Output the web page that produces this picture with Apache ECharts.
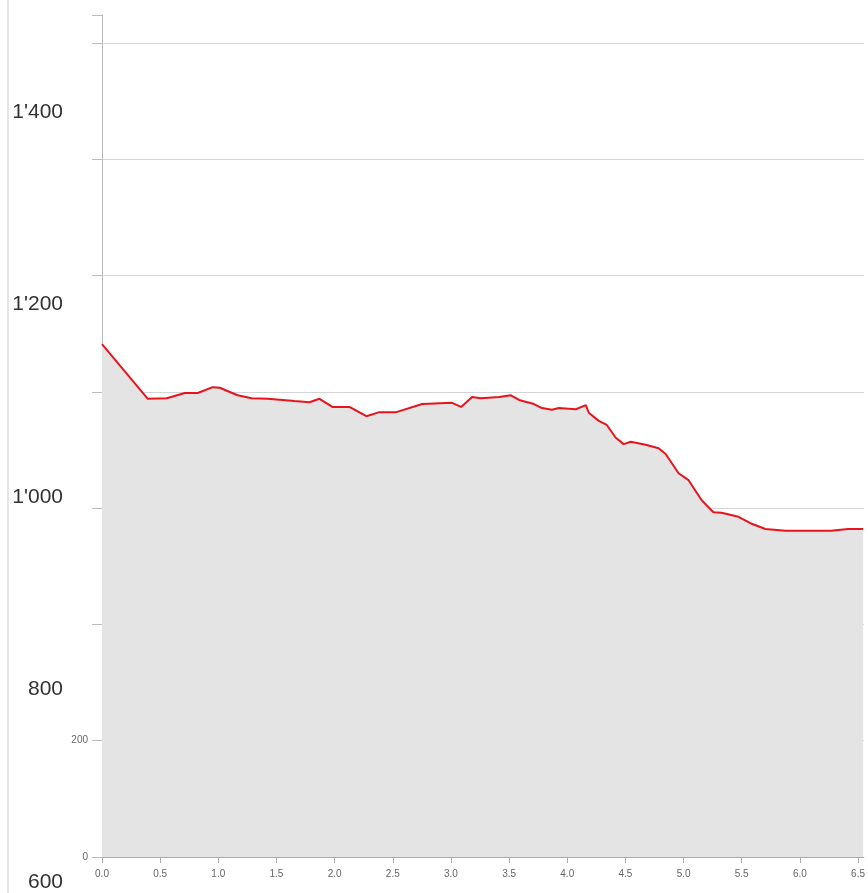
<!DOCTYPE html>
<html>
<head>
<meta charset="utf-8">
<script src="https://cdn.jsdelivr.net/npm/echarts@6/dist/echarts.min.js"></script>
<style>html,body{margin:0;padding:0;background:#fff}#c{width:868px;height:893px}</style>
</head>
<body>
<div id="c"></div>
<script>
const distanceKm = [0.00,0.394,0.557,0.712,0.823,0.952,1.012,1.166,1.286,1.424,1.655,1.784,1.870,1.981,2.127,2.273,2.384,2.530,2.753,3.010,3.087,3.182,3.259,3.413,3.516,3.585,3.714,3.782,3.868,3.928,4.074,4.160,4.185,4.271,4.340,4.417,4.485,4.545,4.674,4.786,4.846,4.957,5.043,5.154,5.257,5.326,5.472,5.575,5.703,5.875,6.072,6.269,6.415,6.544];
const profileValues = [882,788,789,798,798,808,807,794,789,788,784,782,788,774,774,758,765,765,779,781,774,791,789,791,794,786,779,772,769,772,770,777,764,750,743,721,710,714,709,703,693,660,648,614,593,592,585,574,564,561,561,561,564,564];
const smallTickLabels = [0, 200];
const bigTickLabels = [600, 800, 1000, 1200, 1400];

const chart = echarts.init(document.getElementById('c'), null, {renderer: 'canvas'});
const fmtBig = v => {
  const s = String(v);
  return s.length > 3 ? s.slice(0, s.length - 3) + "'" + s.slice(-3) : s;
};
chart.setOption({
  animation: false,
  grid: [
    {left: 102, right: 2, top: 15, bottom: 36},
    {left: 68, width: 20, top: 112, bottom: 11}
  ],
  graphic: [{
    type: 'line', shape: {x1: 8, y1: 0, x2: 8, y2: 893},
    style: {stroke: '#e6e6e6', lineWidth: 2}, silent: true
  }],
  xAxis: [{
    gridIndex: 0, type: 'value', min: 0, max: 6.55, interval: 0.5,
    axisLine: {show: true, lineStyle: {color: '#aaa'}},
    axisTick: {show: true, length: 6, lineStyle: {color: '#aaa'}},
    axisLabel: {color: '#666', fontSize: 10, fontFamily: 'Liberation Sans', margin: 12,
      showMaxLabel: false, formatter: v => v.toFixed(1)},
    splitLine: {show: false}
  }, {
    gridIndex: 1, type: 'value', show: false
  }],
  yAxis: [{
    gridIndex: 0, type: 'value', min: 0, max: 1448, interval: 200,
    axisLine: {show: true, lineStyle: {color: '#bbb'}},
    axisTick: {show: true, length: 10, lineStyle: {color: '#bbb'}},
    axisLabel: {color: '#666', fontSize: 10, fontFamily: 'Liberation Sans', margin: 14,
      formatter: v => smallTickLabels.includes(v) ? String(v) : ''},
    splitLine: {show: true, showMinLine: false, showMaxLine: false, lineStyle: {color: '#d4d4d4'}}
  }, {
    gridIndex: 1, type: 'value', min: 600, max: 1400, interval: 200,
    axisLine: {show: false}, axisTick: {show: false}, splitLine: {show: false},
    axisLabel: {color: '#333', fontSize: 21, fontFamily: 'Liberation Sans', margin: 5,
      formatter: v => bigTickLabels.includes(v) ? fmtBig(v) : ''}
  }],
  series: [{
    type: 'line', xAxisIndex: 0, yAxisIndex: 0,
    data: distanceKm.map((d, i) => [d, profileValues[i]]),
    symbol: 'none', smooth: false,
    lineStyle: {color: '#e8141c', width: 2},
    areaStyle: {color: '#e4e4e4', opacity: 1}
  }]
});
</script>
</body>
</html>
